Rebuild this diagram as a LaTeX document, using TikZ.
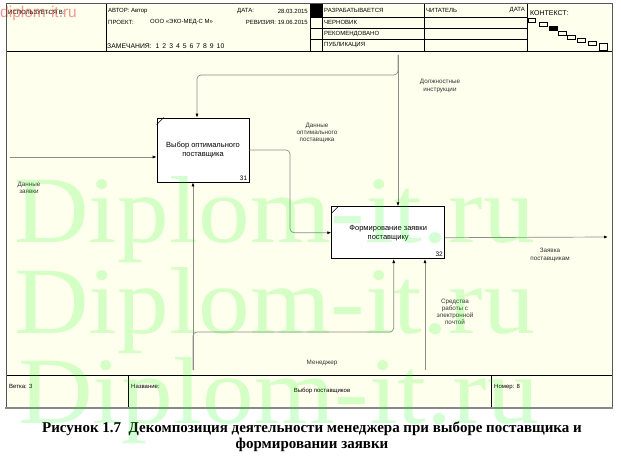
\documentclass[tikz,border=0pt]{standalone}
\usepackage{fontspec}
\setmainfont{Liberation Serif}
\setsansfont{Liberation Sans}
\usetikzlibrary{arrows.meta, positioning, calc}
\definecolor{paper}{RGB}{255,255,238}
\definecolor{framegray}{RGB}{85,85,85}
\definecolor{linegray}{RGB}{140,140,140}
\definecolor{wmgreen}{RGB}{0,255,0}
\definecolor{wmred}{RGB}{215,30,30}

\begin{document}
\begin{tikzpicture}[x=1pt, y=-1pt,
    func/.style={rectangle, draw=black, line width=0.7pt, fill=white, inner sep=0pt, text centered, font=\sffamily\fontsize{7.5}{9}\selectfont, align=center},
    arrow/.style={draw=linegray, line width=0.7pt, rounded corners=4pt, -{Latex[length=4pt,width=3pt,color=black]}},
    lbl/.style={font=\sffamily\fontsize{6.3}{7.2}\selectfont, text=black!80, align=center, inner sep=0pt},
    num/.style={font=\sffamily\fontsize{6.5}{7}\selectfont, inner sep=0pt, anchor=south east},
    hdr/.style={font=\sffamily\fontsize{6}{7}\selectfont, inner sep=0pt, anchor=west},
    cell/.style={draw=black, line width=0.5pt},
    ctxbox/.style={draw=black, line width=0.4pt, fill=paper},
    wmark/.style={font=\rmfamily\fontsize{95}{95}\selectfont, text=wmgreen, text opacity=0.17, inner sep=0pt, anchor=base west, xscale=1.09}
]
\useasboundingbox (0,0) rectangle (621,460);
\fill[white] (0,0) rectangle (621,460);

% form and header
\fill[paper] (6,3) rectangle (612,408);
\draw[cell] (6,51) -- (612,51);
\draw[cell] (106,3) -- (106,51);
\draw[cell] (310,3) -- (310,51);
\draw[cell] (322,3) -- (322,51);
\draw[cell] (424,3) -- (424,51);
\draw[cell] (527,3) -- (527,51);
\fill[black] (310,3) rectangle (322,17);
\foreach \yy in {17,28,39}
  \draw[cell] (310,\yy) -- (527,\yy);

\node[hdr] (used) at (8,12) {ИСПОЛЬЗУЕТСЯ В:};
\node[hdr] (author) at (108,11) {АВТОР: Автор};
\node[hdr] (date) at (237,11) {ДАТА:};
\node[hdr, anchor=east] (dateval) at (308,11) {28.03.2015};
\node[hdr] (project) at (108,22) {ПРОЕКТ:};
\node[hdr] (projname) at (150,22) {ООО «ЭКО-МЕД-С М»};
\node[hdr, anchor=east] (rev) at (308,22) {РЕВИЗИЯ: 19.06.2015};
\node[hdr, font=\sffamily\fontsize{6.8}{7}\selectfont] (notes) at (107,46) {ЗАМЕЧАНИЯ:\hspace{4pt}1\hspace{3pt}2\hspace{3pt}3\hspace{3pt}4\hspace{3pt}5\hspace{3pt}6\hspace{3pt}7\hspace{3pt}8\hspace{3pt}9\hspace{3pt}10};
\node[hdr] (st1) at (324,10) {РАЗРАБАТЫВАЕТСЯ};
\node[hdr] (st2) at (324,22) {ЧЕРНОВИК};
\node[hdr] (st3) at (324,34) {РЕКОМЕНДОВАНО};
\node[hdr] (st4) at (324,45) {ПУБЛИКАЦИЯ};
\node[hdr] (reader) at (426,10) {ЧИТАТЕЛЬ};
\node[hdr, anchor=east] (rdate) at (525,10) {ДАТА};
\node[hdr, font=\sffamily\fontsize{7}{8}\selectfont] (ctx) at (530,13) {КОНТЕКСТ:};

% context squares
\foreach \xa/\ya/\xb/\yb in {528/18/535/22, 539/22/547/26, 558/31/566/35, 567/35/575/39, 577/38/585/42, 588/41/596/45, 599/43/607/50}
  \draw[ctxbox] (\xa,\ya) rectangle (\xb,\yb);
\draw[ctxbox, fill=black] (549,26) rectangle (557,30);

% footer
\draw[cell] (6,375) -- (612,375);
\draw[cell] (128,375) -- (128,408);
\draw[cell] (491,375) -- (491,408);
\node[hdr] (branch) at (9,386) {Ветка: 3};
\node[hdr] (title) at (131,386) {Название:};
\node[hdr, anchor=center] (titleval) at (322,391) {Выбор поставщиков};
\node[hdr] (number) at (494,387) {Номер: 8};

\draw[framegray, line width=0.8pt] (6,408) -- (6,3) -- (612,3) -- (612,408);
\draw[framegray!70, line width=2pt] (5,408) -- (613,408);

% activities
\node[func, minimum width=92pt, minimum height=64pt] (b1) at (203,150) {Выбор оптимального\\поставщика};
\node[func, minimum width=113pt, minimum height=52pt, below right=24pt and 82pt of b1] (b2) {Формирование заявки\\поставщику};
\node[num] at ([xshift=-2pt,yshift=2pt]b1.south east) {31};
\node[num] at ([xshift=-2pt,yshift=2pt]b2.south east) {32};
\draw[line width=0.5pt] ([yshift=-7pt]b1.north west) -- ([xshift=7pt]b1.north west);
\draw[line width=0.5pt] ([yshift=-7pt]b2.north west) -- ([xshift=7pt]b2.north west);

% arrow ends
\coordinate (inL) at (10,157);
\coordinate (ctrl) at (398,55);
\coordinate (ctrlBr) at (300,75);
\coordinate (outR) at (608,237);
\coordinate (mech1) at (193,370);
\coordinate (mechBr) at (300,332);
\coordinate (mech2) at (425,370);
\coordinate (b1b2) at (290,190);

% arrows
\draw[arrow] (inL) -- (inL -| b1.west);
\draw[arrow] (b1.east) -| (b1b2) |- (b2.west);
\draw[arrow] (ctrl) -- (ctrl |- b2.north);
\draw[arrow] (ctrl) |- (ctrlBr) -| ([xshift=-6pt]b1.north);
\draw[arrow] ([yshift=-5pt]b2.east) -- (outR);
\draw[arrow] (mech1) -- (mech1 |- b1.south);
\draw[arrow] (mech1) |- (mechBr) -| ([xshift=5.5pt]b2.south);
\draw[arrow] (mech2) -- (mech2 |- b2.south);

% labels
\node[lbl] (l1) at (29,188) {Данные\\заявки};
\node[lbl] (l2) at (317,133) {Данные\\оптимального\\поставщика};
\node[lbl] (l3) at (440,86) {Должностные\\инструкции};
\node[lbl] (l4) at (550,255) {Заявка\\поставщикам};
\node[lbl] (l5) at (455,312) {Средства\\работы с\\электронной\\почтой};
\node[lbl] (l6) at (322,363) {Менеджер};

% caption
\node[font=\rmfamily\bfseries\fontsize{15}{16}\selectfont, align=center, inner sep=0pt] (cap) at (312,437) {Рисунок 1.7\ \ Декомпозиция деятельности менеджера при выборе поставщика и\\формировании заявки};

% watermarks
\node[wmark] (wm1) at (14,242) {Diplom-it.ru};
\node[wmark] (wm2) at (14,333) {Diplom-it.ru};
\node[wmark] (wm3) at (18,423) {Diplom-it.ru};
\node[font=\sffamily\fontsize{15.5}{16}\selectfont, text=wmred, text opacity=0.45, inner sep=0pt, anchor=base west] (wmr) at (0,18) {diplom-it.ru};

\end{tikzpicture}
\end{document}
